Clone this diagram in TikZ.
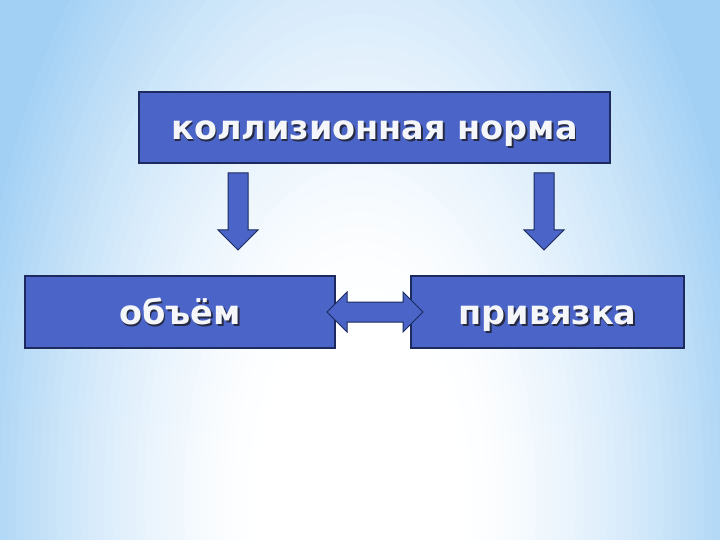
\documentclass[tikz,border=0pt]{standalone}
\usepackage{fontspec}
\setmainfont{DejaVu Sans}
\definecolor{boxblue}{HTML}{4A64C8}
\definecolor{boxline}{HTML}{1C2A5E}
\definecolor{txtshadow}{HTML}{262A44}
\definecolor{txtmain}{HTML}{F4F6FA}
\definecolor{bgD}{HTML}{A2D0F4}
\newcommand\shadowtext[1]{\makebox[0pt][l]{\hspace{1.6pt}\raisebox{-1.6pt}{\textcolor{txtshadow}{#1}}}\textcolor{txtmain}{#1}}
\tikzset{
  box/.style={draw=boxline, fill=boxblue, line width=1.2pt, inner sep=0pt,
    text height=31pt, text depth=6pt,
    font=\fontsize{33.5}{40}\selectfont\bfseries},
  blockarrow/.style={draw=boxline, fill=boxblue, line width=1pt, line join=miter}
}
\begin{document}
\begin{tikzpicture}[x=1pt,y=-1pt]
\useasboundingbox (0,0) rectangle (720,540);
\begin{scope}
\clip (0,0) rectangle (720,540);
\foreach \k in {66,65,...,1} {
  \pgfmathsetmacro\dd{\k/50}
  \pgfmathsetmacro\tt{max(0.001,min(1,(\dd-0.25)/0.75))}
  \pgfmathsetmacro\pp{100*(\tt^1.5)}
  \fill[bgD!\pp!white] (360,500) ellipse [x radius=400*\dd, y radius=760*\dd];
}
\end{scope}
\node[box, minimum width=471pt, minimum height=71pt] (norm) at (374.5,127.5) {\shadowtext{коллизионная норма}};
\node[box, minimum width=310pt, minimum height=72pt] (vol) at (180,312) {\shadowtext{объём}};
\node[box, minimum width=273pt, minimum height=72pt] (bind) at (547.5,312) {\shadowtext{привязка}};
\coordinate (a1) at (238,173);
\coordinate (a2) at (544,173);
\coordinate (d) at (327,312);
\draw[blockarrow] (a1) ++(-10,0) -- ++(20,0) -- ++(0,57) -- ++(10,0) -- ++(-20,20) -- ++(-20,-20) -- ++(10,0) -- cycle;
\draw[blockarrow] (a2) ++(-10,0) -- ++(20,0) -- ++(0,57) -- ++(10,0) -- ++(-20,20) -- ++(-20,-20) -- ++(10,0) -- cycle;
\draw[blockarrow] (d) -- ++(20,-20) -- ++(0,10) -- ++(56,0) -- ++(0,-10) -- ++(20,20) -- ++(-20,20) -- ++(0,-10) -- ++(-56,0) -- ++(0,10) -- cycle;
\end{tikzpicture}
\end{document}
